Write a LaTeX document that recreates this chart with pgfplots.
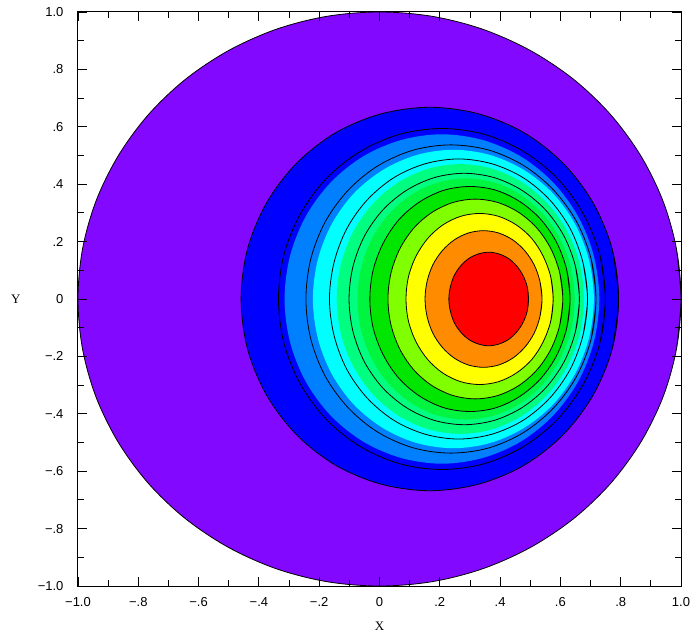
\documentclass[border=0pt]{standalone}
\usepackage{pgfplots}
\pgfplotsset{compat=1.18}
\usepackage{pgfplotstable}
\usepackage{fontspec}
\setmainfont{Liberation Sans}
\newfontfamily\labelfont{Liberation Serif}

\definecolor{cpurple}{RGB}{130,8,255}
\definecolor{cblue}{RGB}{0,0,255}
\definecolor{cdodger}{RGB}{0,128,255}
\definecolor{ccyan}{RGB}{0,255,255}
\definecolor{cspring}{RGB}{0,255,128}
\definecolor{cgreenA}{RGB}{0,245,64}
\definecolor{cgreenB}{RGB}{0,230,0}
\definecolor{cchart}{RGB}{128,255,0}
\definecolor{cyellow}{RGB}{255,255,0}
\definecolor{corange}{RGB}{255,140,0}
\definecolor{cred}{RGB}{255,0,0}

% outer disk (unit circle)
\pgfplotstableread[row sep=\\]{x y\\
0.985 -0.174\\
1 0\\ 0.985 0.174\\ 0.940 0.342\\ 0.866 0.5\\ 0.766 0.643\\ 0.643 0.766\\ 0.5 0.866\\ 0.342 0.940\\ 0.174 0.985\\ 0 1\\
-0.174 0.985\\ -0.342 0.940\\ -0.5 0.866\\ -0.643 0.766\\ -0.766 0.643\\ -0.866 0.5\\ -0.940 0.342\\ -0.985 0.174\\ -1 0\\
-0.985 -0.174\\ -0.940 -0.342\\ -0.866 -0.5\\ -0.766 -0.643\\ -0.643 -0.766\\ -0.5 -0.866\\ -0.342 -0.940\\ -0.174 -0.985\\ 0 -1\\
0.174 -0.985\\ 0.342 -0.940\\ 0.5 -0.866\\ 0.643 -0.766\\ 0.766 -0.643\\ 0.866 -0.5\\ 0.940 -0.342\\ 0.985 -0.174\\ 1 0\\
0.985 0.174\\
}\cDisk

% contour lines
\pgfplotstableread[row sep=\\]{x y\\
0.772 -0.173\\
0.793 0\\ 0.772 0.173\\ 0.709 0.334\\ 0.610 0.472\\ 0.480 0.579\\ 0.329 0.645\\ 0.167 0.668\\ 0.005 0.645\\ -0.146 0.579\\ -0.276 0.472\\ -0.375 0.334\\ -0.438 0.173\\ -0.459 0\\
-0.438 -0.173\\ -0.375 -0.334\\ -0.276 -0.472\\ -0.146 -0.579\\ 0.005 -0.645\\ 0.167 -0.668\\ 0.329 -0.645\\ 0.480 -0.579\\ 0.610 -0.472\\ 0.709 -0.334\\ 0.772 -0.173\\ 0.793 0\\
0.772 0.173\\
}\cA

\pgfplotstableread[row sep=\\]{x y\\
0.731 -0.154\\
0.749 0\\ 0.731 0.154\\ 0.676 0.297\\ 0.590 0.420\\ 0.478 0.514\\ 0.347 0.574\\ 0.207 0.594\\ 0.067 0.574\\ -0.064 0.514\\ -0.176 0.420\\ -0.262 0.297\\ -0.317 0.154\\ -0.335 0\\
-0.317 -0.154\\ -0.262 -0.297\\ -0.176 -0.420\\ -0.064 -0.514\\ 0.067 -0.574\\ 0.207 -0.594\\ 0.347 -0.574\\ 0.478 -0.514\\ 0.590 -0.420\\ 0.676 -0.297\\ 0.731 -0.154\\ 0.749 0\\
0.731 0.154\\
}\cB

\pgfplotstableread[row sep=\\]{x y\\
0.702 -0.139\\
0.718 0\\ 0.702 0.139\\ 0.654 0.269\\ 0.577 0.380\\ 0.478 0.465\\ 0.362 0.519\\ 0.237 0.537\\ 0.113 0.519\\ -0.004 0.465\\ -0.103 0.380\\ -0.180 0.269\\ -0.228 0.139\\ -0.244 0\\
-0.228 -0.139\\ -0.180 -0.269\\ -0.103 -0.380\\ -0.004 -0.465\\ 0.113 -0.519\\ 0.237 -0.537\\ 0.362 -0.519\\ 0.478 -0.465\\ 0.577 -0.380\\ 0.654 -0.269\\ 0.702 -0.139\\ 0.718 0\\
0.702 0.139\\
}\cC

\pgfplotstableread[row sep=\\]{x y\\
0.675 -0.126\\
0.690 0\\ 0.675 0.126\\ 0.633 0.244\\ 0.565 0.345\\ 0.476 0.423\\ 0.373 0.471\\ 0.262 0.488\\ 0.151 0.471\\ 0.048 0.423\\ -0.041 0.345\\ -0.109 0.244\\ -0.151 0.126\\ -0.166 0\\
-0.151 -0.126\\ -0.109 -0.244\\ -0.041 -0.345\\ 0.048 -0.423\\ 0.151 -0.471\\ 0.262 -0.488\\ 0.373 -0.471\\ 0.476 -0.423\\ 0.565 -0.345\\ 0.633 -0.244\\ 0.675 -0.126\\ 0.690 0\\
0.675 0.126\\
}\cD

\pgfplotstableread[row sep=\\]{x y\\
0.650 -0.113\\
0.663 0\\ 0.650 0.113\\ 0.612 0.219\\ 0.551 0.310\\ 0.472 0.379\\ 0.380 0.423\\ 0.281 0.438\\ 0.182 0.423\\ 0.090 0.379\\ 0.011 0.310\\ -0.050 0.219\\ -0.088 0.113\\ -0.101 0\\
-0.088 -0.113\\ -0.050 -0.219\\ 0.011 -0.310\\ 0.090 -0.379\\ 0.182 -0.423\\ 0.281 -0.438\\ 0.380 -0.423\\ 0.472 -0.379\\ 0.551 -0.310\\ 0.612 -0.219\\ 0.650 -0.113\\ 0.663 0\\
0.650 0.113\\
}\cE

\pgfplotstableread[row sep=\\]{x y\\
0.621 -0.101\\
0.632 0\\ 0.621 0.101\\ 0.588 0.196\\ 0.535 0.277\\ 0.466 0.339\\ 0.386 0.379\\ 0.300 0.392\\ 0.214 0.379\\ 0.134 0.339\\ 0.065 0.277\\ 0.013 0.196\\ -0.021 0.101\\ -0.032 0\\
-0.021 -0.101\\ 0.013 -0.196\\ 0.065 -0.277\\ 0.134 -0.339\\ 0.214 -0.379\\ 0.300 -0.392\\ 0.386 -0.379\\ 0.466 -0.339\\ 0.535 -0.277\\ 0.588 -0.196\\ 0.621 -0.101\\ 0.632 0\\
0.621 0.101\\
}\cF

\pgfplotstableread[row sep=\\]{x y\\
0.598 -0.090\\
0.608 0\\ 0.598 0.090\\ 0.569 0.174\\ 0.523 0.246\\ 0.463 0.301\\ 0.393 0.336\\ 0.318 0.348\\ 0.243 0.336\\ 0.173 0.301\\ 0.113 0.246\\ 0.067 0.174\\ 0.038 0.090\\ 0.028 0\\
0.038 -0.090\\ 0.067 -0.174\\ 0.113 -0.246\\ 0.173 -0.301\\ 0.243 -0.336\\ 0.318 -0.348\\ 0.393 -0.336\\ 0.463 -0.301\\ 0.523 -0.246\\ 0.569 -0.174\\ 0.598 -0.090\\ 0.608 0\\
0.598 0.090\\
}\cG

\pgfplotstableread[row sep=\\]{x y\\
0.568 -0.077\\
0.576 0\\ 0.568 0.077\\ 0.543 0.149\\ 0.505 0.211\\ 0.454 0.258\\ 0.395 0.288\\ 0.332 0.298\\ 0.269 0.288\\ 0.210 0.258\\ 0.160 0.211\\ 0.121 0.149\\ 0.096 0.077\\ 0.088 0\\
0.096 -0.077\\ 0.121 -0.149\\ 0.160 -0.211\\ 0.210 -0.258\\ 0.269 -0.288\\ 0.332 -0.298\\ 0.395 -0.288\\ 0.454 -0.258\\ 0.505 -0.211\\ 0.543 -0.149\\ 0.568 -0.077\\ 0.576 0\\
0.568 0.077\\
}\cH

\pgfplotstableread[row sep=\\]{x y\\
0.532 -0.062\\
0.539 0\\ 0.532 0.062\\ 0.513 0.119\\ 0.482 0.168\\ 0.442 0.206\\ 0.395 0.230\\ 0.345 0.238\\ 0.295 0.230\\ 0.248 0.206\\ 0.208 0.168\\ 0.177 0.119\\ 0.158 0.062\\ 0.151 0\\
0.158 -0.062\\ 0.177 -0.119\\ 0.208 -0.168\\ 0.248 -0.206\\ 0.295 -0.230\\ 0.345 -0.238\\ 0.395 -0.230\\ 0.442 -0.206\\ 0.482 -0.168\\ 0.513 -0.119\\ 0.532 -0.062\\ 0.539 0\\
0.532 0.062\\
}\cI

\pgfplotstableread[row sep=\\]{x y\\
0.490 -0.042\\
0.494 0\\ 0.490 0.042\\ 0.476 0.082\\ 0.455 0.115\\ 0.428 0.141\\ 0.396 0.157\\ 0.362 0.163\\ 0.328 0.157\\ 0.296 0.141\\ 0.269 0.115\\ 0.248 0.082\\ 0.235 0.042\\ 0.230 0\\
0.235 -0.042\\ 0.248 -0.082\\ 0.269 -0.115\\ 0.296 -0.141\\ 0.328 -0.157\\ 0.362 -0.163\\ 0.396 -0.157\\ 0.428 -0.141\\ 0.455 -0.115\\ 0.476 -0.082\\ 0.490 -0.042\\ 0.494 0\\
0.490 0.042\\
}\cJ

% colour-band boundaries that sit just inside their contour lines
\pgfplotstableread[row sep=\\]{x y\\
0.711 -0.149\\
0.729 0\\ 0.711 0.149\\ 0.659 0.287\\ 0.576 0.406\\ 0.468 0.497\\ 0.342 0.554\\ 0.207 0.574\\ 0.072 0.554\\ -0.054 0.497\\ -0.162 0.406\\ -0.245 0.287\\ -0.297 0.149\\ -0.315 0\\
-0.297 -0.149\\ -0.245 -0.287\\ -0.162 -0.406\\ -0.054 -0.497\\ 0.072 -0.554\\ 0.207 -0.574\\ 0.342 -0.554\\ 0.468 -0.497\\ 0.576 -0.406\\ 0.659 -0.287\\ 0.711 -0.149\\ 0.729 0\\
0.711 0.149\\
}\fB

\pgfplotstableread[row sep=\\]{x y\\
0.695 -0.135\\
0.711 0\\ 0.695 0.135\\ 0.649 0.260\\ 0.575 0.368\\ 0.478 0.450\\ 0.366 0.502\\ 0.245 0.520\\ 0.124 0.502\\ 0.012 0.450\\ -0.085 0.368\\ -0.159 0.260\\ -0.205 0.135\\ -0.221 0\\
-0.205 -0.135\\ -0.159 -0.260\\ -0.085 -0.368\\ 0.012 -0.450\\ 0.124 -0.502\\ 0.245 -0.520\\ 0.366 -0.502\\ 0.478 -0.450\\ 0.575 -0.368\\ 0.649 -0.260\\ 0.695 -0.135\\ 0.711 0\\
0.695 0.135\\
}\fC

\pgfplotstableread[row sep=\\]{x y\\
0.664 -0.122\\
0.678 0\\ 0.664 0.122\\ 0.623 0.235\\ 0.558 0.332\\ 0.473 0.407\\ 0.374 0.454\\ 0.268 0.470\\ 0.162 0.454\\ 0.063 0.407\\ -0.022 0.332\\ -0.087 0.235\\ -0.128 0.122\\ -0.142 0\\
-0.128 -0.122\\ -0.087 -0.235\\ -0.022 -0.332\\ 0.063 -0.407\\ 0.162 -0.454\\ 0.268 -0.470\\ 0.374 -0.454\\ 0.473 -0.407\\ 0.558 -0.332\\ 0.623 -0.235\\ 0.664 -0.122\\ 0.678 0\\
0.664 0.122\\
}\fD

\pgfplotstableread[row sep=\\]{x y\\
0.635 -0.109\\
0.647 0\\ 0.635 0.109\\ 0.599 0.210\\ 0.542 0.297\\ 0.467 0.364\\ 0.380 0.406\\ 0.287 0.420\\ 0.194 0.406\\ 0.107 0.364\\ 0.032 0.297\\ -0.025 0.210\\ -0.061 0.109\\ -0.073 0\\
-0.061 -0.109\\ -0.025 -0.210\\ 0.032 -0.297\\ 0.107 -0.364\\ 0.194 -0.406\\ 0.287 -0.420\\ 0.380 -0.406\\ 0.467 -0.364\\ 0.542 -0.297\\ 0.599 -0.210\\ 0.635 -0.109\\ 0.647 0\\
0.635 0.109\\
}\fE

\begin{document}
\begin{tikzpicture}
\useasboundingbox (-78pt,-48pt) rectangle (612pt,586pt);
\begin{axis}[
  at={(0,0)}, anchor=south west,
  scale only axis, width=603pt, height=574pt,
  xmin=-1, xmax=1, ymin=-1, ymax=1,
  xtick={-1,-0.8,-0.6,-0.4,-0.2,0,0.2,0.4,0.6,0.8,1},
  ytick={-1,-0.8,-0.6,-0.4,-0.2,0,0.2,0.4,0.6,0.8,1},
  xticklabels={−1.0,−.8,−.6,−.4,−.2,0,.2,.4,.6,.8,1.0},
  yticklabels={−1.0,−.8,−.6,−.4,−.2,0,.2,.4,.6,.8,1.0},
  minor x tick num=1, minor y tick num=1,
  tick align=inside,
  major tick length=9pt, minor tick length=6pt,
  every tick/.style={black, line width=0.9pt},
  axis line style={line width=1pt},
  ticklabel style={font=\fontsize{13}{15}\selectfont},
  xticklabel style={yshift=-8pt},
  yticklabel style={xshift=-11pt},
  xlabel={X}, ylabel={Y},
  xlabel style={font=\labelfont\fontsize{13}{15}\selectfont, at={(axis description cs:0.5,-0.0697)}, anchor=center},
  ylabel style={font=\labelfont\fontsize{13}{15}\selectfont, rotate=-90, at={(axis description cs:-0.103,0.5)}, anchor=center},
  axis on top,
  every axis plot/.append style={smooth, tension=0.55, line join=round, line cap=round},
]
% filled bands
\addplot[fill=cpurple, draw=none] table {\cDisk};
\addplot[fill=cblue, draw=none] table {\cA};
\addplot[fill=cdodger, draw=none] table {\fB};
\addplot[fill=ccyan, draw=none] table {\fC};
\addplot[fill=cspring, draw=none] table {\fD};
\addplot[fill=cgreenA, draw=none] table {\fE};
\addplot[fill=cgreenB, draw=none] table {\cF};
\addplot[fill=cchart, draw=none] table {\cG};
\addplot[fill=cyellow, draw=none] table {\cH};
\addplot[fill=corange, draw=none] table {\cI};
\addplot[fill=cred, draw=none] table {\cJ};
% contour lines
\addplot[draw=black, line width=0.8pt] table {\cDisk};
\addplot[draw=black, line width=0.8pt] table {\cA};
\addplot[draw=black, line width=0.8pt] table {\cB};
\addplot[draw=black, line width=0.8pt] table {\cC};
\addplot[draw=black, line width=0.8pt] table {\cD};
\addplot[draw=black, line width=0.8pt] table {\cE};
\addplot[draw=black, line width=0.8pt] table {\cF};
\addplot[draw=black, line width=0.8pt] table {\cG};
\addplot[draw=black, line width=0.8pt] table {\cH};
\addplot[draw=black, line width=0.8pt] table {\cI};
\addplot[draw=black, line width=0.8pt] table {\cJ};
\end{axis}
\end{tikzpicture}
\end{document}
